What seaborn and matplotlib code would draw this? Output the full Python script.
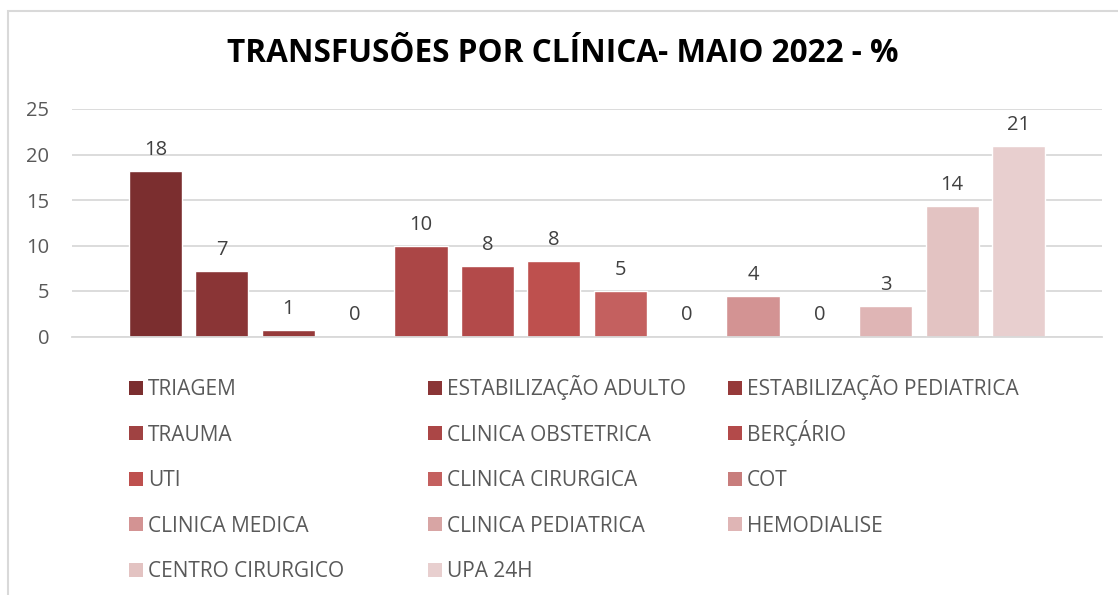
import matplotlib
matplotlib.use("Agg")
import matplotlib.pyplot as plt
from matplotlib.patches import Rectangle
import seaborn as sns
import pandas as pd

categories = ["TRIAGEM", "ESTABILIZAÇÃO ADULTO", "ESTABILIZAÇÃO PEDIATRICA",
              "TRAUMA", "CLINICA OBSTETRICA", "BERÇÁRIO", "UTI",
              "CLINICA CIRURGICA", "COT", "CLINICA MEDICA", "CLINICA PEDIATRICA",
              "HEMODIALISE", "CENTRO CIRURGICO", "UPA 24H"]
values = [18.2, 7.2, 0.66, 0.0, 9.97, 7.77, 8.3, 5.0, 0.0, 4.45, 0.0, 3.37, 14.35, 20.9]
colors = ["#7B2E2F", "#8A3536", "#963A3A", "#A04242", "#AB4646", "#B34A4A", "#BE504E",
          "#C4605F", "#C87D7C", "#D39393", "#D8A5A4", "#DFB5B5", "#E3C3C2", "#E8CFCF"]
yticks = [0, 5, 10, 15, 20, 25]
title = "TRANSFUSÕES POR CLÍNICA- MAIO 2022 - %"

df = pd.DataFrame({"clinica": categories, "valor": values})

sns.set_theme(style="white")
plt.rcParams["font.family"] = ["Open Sans", "DejaVu Sans"]

W, H = 1118, 595
fig = plt.figure(figsize=(W / 100, H / 100), dpi=100)
ax = fig.add_axes([72 / W, 1 - 336.5 / H, (1102 - 72) / W, (336.5 - 109) / H])

sns.barplot(data=df, x="clinica", y="valor", hue="clinica", palette=colors,
            order=categories, hue_order=categories, width=0.8, dodge=False,
            legend=False, ax=ax, saturation=1)

ax.set_xlim(-1.257, 13 + 1.257)
ax.set_ylim(0, 25)
ax.set_yticks(yticks)
ax.set_xticks([])
ax.set_xlabel("")
ax.set_ylabel("")
ax.tick_params(axis="y", length=0, labelsize=14.5, labelcolor="#595959", pad=16.5)
ax.yaxis.grid(True, color="#D9D9D9", linewidth=1.3)
ax.set_axisbelow(True)
for s in ["top", "right", "left"]:
    ax.spines[s].set_visible(False)
ax.spines["bottom"].set_color("#D9D9D9")
ax.spines["bottom"].set_linewidth(1.3)

for cont in ax.containers:
    ax.bar_label(cont, fmt="{:.0f}", padding=8, fontsize=14.5, color="#404040")

fig.text(563 / W, 1 - 53 / H, title, ha="center", va="center",
         fontsize=22.7, fontweight="bold", color="#000000")

# legend: three columns x five rows, filled row-wise like the original
col_x = [129, 428, 728]
row_y = [387.7, 433.2, 478.7, 524.2, 569.5]
msize = 14
for i, (lab, col) in enumerate(zip(categories, colors)):
    r, c = divmod(i, 3)
    x0, yc = col_x[c], row_y[r]
    fig.patches.append(Rectangle((x0 / W, 1 - (yc + msize / 2) / H), msize / W, msize / H,
                                 transform=fig.transFigure, facecolor=col,
                                 edgecolor="none"))
    fig.text((x0 + msize + 5) / W, 1 - (yc + 7.6) / H, lab, ha="left", va="baseline",
             fontsize=15, color="#595959")

# chart border
fig.patches.append(Rectangle((8 / W, -0.2), 1.5, 1.2 - 11 / H,
                             transform=fig.transFigure, fill=False,
                             edgecolor="#D9D9D9", linewidth=1.5))

fig.savefig("out.png", dpi=100)
